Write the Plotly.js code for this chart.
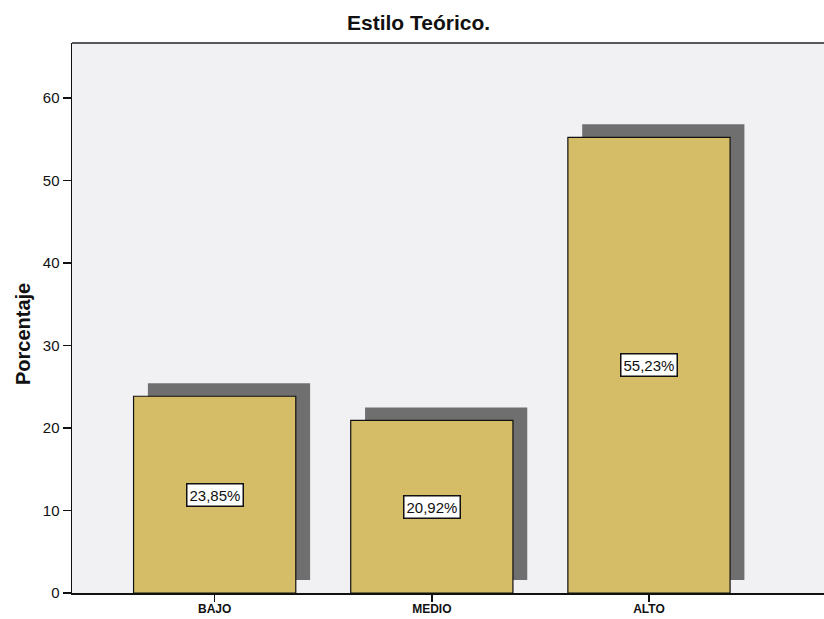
<!DOCTYPE html>
<html>
<head>
<meta charset="utf-8">
<script src="https://cdn.plot.ly/plotly-3.0.1.min.js"></script>
<style>html,body{margin:0;padding:0;background:#fff;}#chart{width:824px;height:619px;}</style>
</head>
<body>
<div id="chart"></div>
<script>
const categories = ['BAJO', 'MEDIO', 'ALTO'];
const percentages = [23.85, 20.92, 55.23];
const yTicks = [0, 10, 20, 30, 40, 50, 60];

const shadowLift = 1.58;   // shadow raised above the axis (data units)
const barWidth = 0.747;
const shadowShift = 0.066;

const shadow = {
  type: 'bar',
  x: categories,
  y: percentages,
  base: percentages.map(() => shadowLift),
  width: barWidth,
  offset: -barWidth / 2 + shadowShift,
  marker: {color: '#6f6f6f', line: {width: 0}},
  hoverinfo: 'skip'
};
const bars = {
  type: 'bar',
  x: categories,
  y: percentages,
  width: barWidth,
  offset: -barWidth / 2,
  marker: {color: '#d5bd67', line: {color: '#111', width: 1.2}}
};

const annotations = categories.map((c, i) => ({
  x: c, y: percentages[i] / 2, xref: 'x', yref: 'y',
  text: percentages[i].toFixed(2).replace('.', ',') + '%',
  showarrow: false,
  bgcolor: '#ffffff', bordercolor: '#111', borderwidth: 1.5, borderpad: 2,
  font: {family: 'Liberation Sans, Arial, sans-serif', size: 15, color: '#111'}
}));
annotations.push({
  xref: 'paper', yref: 'paper', x: -0.065, y: 0.471,
  xanchor: 'center', yanchor: 'middle', textangle: -90, showarrow: false,
  text: '<b>Porcentaje</b>',
  font: {family: 'Liberation Sans, Arial, sans-serif', size: 20, color: '#111'}
});

const layout = {
  width: 824, height: 619,
  margin: {l: 72, r: 0, t: 43, b: 26},
  paper_bgcolor: '#ffffff',
  plot_bgcolor: '#f1f1f4',
  barmode: 'overlay',
  showlegend: false,
  title: {
    text: '<b>Estilo Teórico.</b>',
    x: 0.508, xanchor: 'center', y: 0.964, yanchor: 'middle',
    font: {family: 'Liberation Sans, Arial, sans-serif', size: 21, color: '#111'}
  },
  xaxis: {
    type: 'category',
    range: [-0.657, 2.806],
    showgrid: false, zeroline: false,
    showline: true, linecolor: '#111', linewidth: 1.5,
    ticks: 'outside', ticklen: 7, tickcolor: '#111', tickwidth: 1.5,
    ticklabelstandoff: -3,
    tickfont: {family: 'Liberation Sans, Arial, sans-serif', size: 12, color: '#111', weight: 'bold'}
  },
  yaxis: {
    range: [0, 66.67],
    tickvals: yTicks,
    showgrid: false, zeroline: false,
    showline: true, linecolor: '#111', linewidth: 1.5,
    ticks: 'outside', ticklen: 8, tickcolor: '#111', tickwidth: 1.5,
    tickfont: {family: 'Liberation Sans, Arial, sans-serif', size: 15, color: '#111'}
  },
  shapes: [{
    type: 'line', xref: 'paper', yref: 'paper', x0: 0, x1: 1, y0: 1, y1: 1,
    line: {color: '#222', width: 1.5}
  }],
  annotations: annotations
};

Plotly.newPlot('chart', [shadow, bars], layout, {displayModeBar: false, staticPlot: true});
</script>
</body>
</html>
